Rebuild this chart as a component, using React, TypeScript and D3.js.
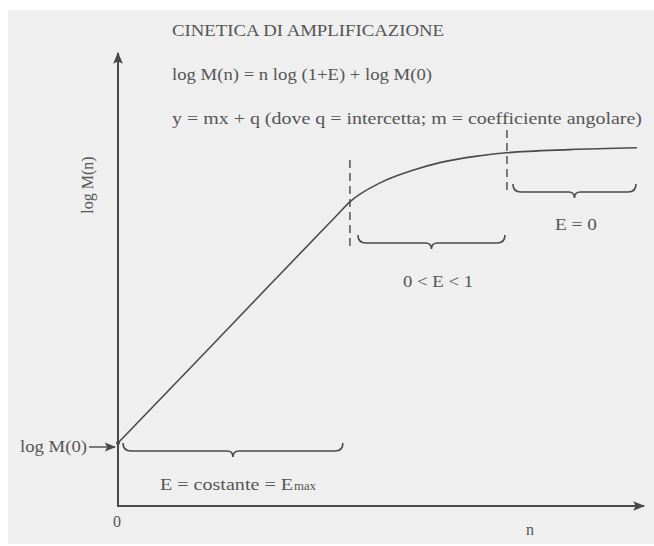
import React, { useEffect, useRef } from "react";
import * as d3 from "d3";

// curve (n, log M(n)) in arbitrary units 0..100
const cycles = [0, 15, 30, 42, 44.6, 50.4, 56.7, 61.9, 68.7, 74.8, 86.9, 99.8];
const logM = [14, 32.0, 50.1, 64.5, 67.6, 71.8, 74.6, 76.3, 77.7, 78.5, 79.2, 79.6];

// phase limits on the n axis
const phaseEdges = [0, 44.6, 74.8, 99.8];
const phaseLabels = ["E = costante = E", "0 < E < 1", "E = 0"];

const titleLines = [
  "CINETICA DI AMPLIFICAZIONE",
  "log M(n) = n log (1+E) + log M(0)",
  "y = mx + q (dove q = intercetta; m = coefficiente angolare)",
];

const W = 654;
const H = 546;
const ink = "#4a4a4a";
const txt = "#555";
const font = "'Liberation Serif', 'Times New Roman', serif";

export default function App() {
  const ref = useRef<SVGSVGElement>(null);

  useEffect(() => {
    const svg = d3.select(ref.current);
    svg.selectAll("*").remove();

    const x0 = 118, x1 = 638, yBase = 506, yTop = 56;
    const x = d3.scaleLinear().domain([0, 100]).range([x0, x1]);
    const y = d3.scaleLinear().domain([0, 100]).range([yBase, yTop]);

    svg.append("rect").attr("width", W).attr("height", H).attr("fill", "#fff");
    svg.append("rect").attr("x", 8).attr("y", 10).attr("width", W - 8).attr("height", 534).attr("fill", "#efefef");

    const defs = svg.append("defs");
    defs.append("marker")
      .attr("id", "arr")
      .attr("viewBox", "0 0 10 10")
      .attr("refX", 9).attr("refY", 5)
      .attr("markerWidth", 6).attr("markerHeight", 6)
      .attr("markerUnits", "strokeWidth")
      .attr("orient", "auto")
      .append("path").attr("d", "M0,1 L10,5 L0,9 L2,5 Z").attr("fill", ink);
    defs.append("marker")
      .attr("id", "arrs")
      .attr("viewBox", "0 0 10 10")
      .attr("refX", 9).attr("refY", 5)
      .attr("markerWidth", 8).attr("markerHeight", 8)
      .attr("markerUnits", "strokeWidth")
      .attr("orient", "auto")
      .append("path").attr("d", "M0,1 L10,5 L0,9 L2,5 Z").attr("fill", ink);

    // axes
    svg.append("line")
      .attr("x1", x0).attr("y1", yBase + 1).attr("x2", x0).attr("y2", 53)
      .attr("stroke", ink).attr("stroke-width", 2).attr("marker-end", "url(#arr)");
    svg.append("line")
      .attr("x1", x0 - 1).attr("y1", yBase).attr("x2", 644).attr("y2", yBase)
      .attr("stroke", ink).attr("stroke-width", 2).attr("marker-end", "url(#arr)");

    // curve
    const line = d3.line<number>()
      .x((d, i) => x(cycles[i]))
      .y(d => y(d))
      .curve(d3.curveMonotoneX);
    svg.append("path")
      .attr("d", line(logM))
      .attr("fill", "none").attr("stroke", ink).attr("stroke-width", 1.6);
    svg.append("circle").attr("cx", x(0)).attr("cy", y(logM[0])).attr("r", 2).attr("fill", ink);

    // dashed phase limits
    const dashes = [
      { n: phaseEdges[1], top: 160, bottom: 248 },
      { n: phaseEdges[2], top: 130, bottom: 190 },
    ];
    svg.selectAll(".dash").data(dashes).enter().append("line")
      .attr("x1", d => x(d.n)).attr("x2", d => x(d.n))
      .attr("y1", d => d.top).attr("y2", d => d.bottom)
      .attr("stroke", ink).attr("stroke-width", 1.4)
      .attr("stroke-dasharray", "8,5");

    // braces
    const brace = (a: number, b: number, yy: number) => {
      const m = (a + b) / 2;
      return `M${a},${yy - 8} Q${a},${yy} ${a + 8},${yy} L${m - 6},${yy} Q${m},${yy} ${m},${yy + 6} Q${m},${yy} ${m + 6},${yy} L${b - 8},${yy} Q${b},${yy} ${b},${yy - 8}`;
    };
    const braces = [
      { a: x(phaseEdges[0]) + 5, b: x(phaseEdges[1]) - 7, yy: 451 },
      { a: x(phaseEdges[1]) + 8, b: x(phaseEdges[2]) - 2, yy: 243 },
      { a: x(phaseEdges[2]) + 6, b: x(phaseEdges[3]) - 1, yy: 192 },
    ];
    svg.selectAll(".brace").data(braces).enter().append("path")
      .attr("d", d => brace(d.a, d.b, d.yy))
      .attr("fill", "none").attr("stroke", ink).attr("stroke-width", 1.6);

    const text = (t: string, tx: number, ty: number, size = 16, len?: number) => {
      const el = svg.append("text")
        .attr("x", tx).attr("y", ty)
        .attr("font-family", font).attr("font-size", size)
        .attr("fill", txt).text(t);
      if (len) el.attr("textLength", len).attr("lengthAdjust", "spacingAndGlyphs");
      return el;
    };

    // title block
    text(titleLines[0], 172, 36, 16, 272);
    text(titleLines[1], 172, 80, 16, 260);
    text(titleLines[2], 172, 124, 16, 470);

    // phase labels
    text(phaseLabels[0], 160, 490, 16, 133);
    text("max", 294, 490, 12, 22);
    text(phaseLabels[1], 403, 287, 16, 70);
    text(phaseLabels[2], 555, 230, 16, 42);

    // axis labels
    text("0", 113, 527, 16);
    text("n", 526, 535, 16);
    svg.append("text")
      .attr("transform", `translate(93,185) rotate(-90)`)
      .attr("text-anchor", "middle")
      .attr("font-family", font).attr("font-size", 16).attr("fill", txt)
      .text("log M(n)");

    text("log M(0)", 20, 452, 16, 67);
    svg.append("line")
      .attr("x1", 89).attr("y1", y(logM[0]) + 4).attr("x2", 115).attr("y2", y(logM[0]) + 4)
      .attr("stroke", ink).attr("stroke-width", 1.4).attr("marker-end", "url(#arrs)");
  }, []);

  return (
    <svg
      ref={ref}
      width={W}
      height={H}
      style={{ position: "absolute", left: 0, top: 0, display: "block" }}
    />
  );
}
